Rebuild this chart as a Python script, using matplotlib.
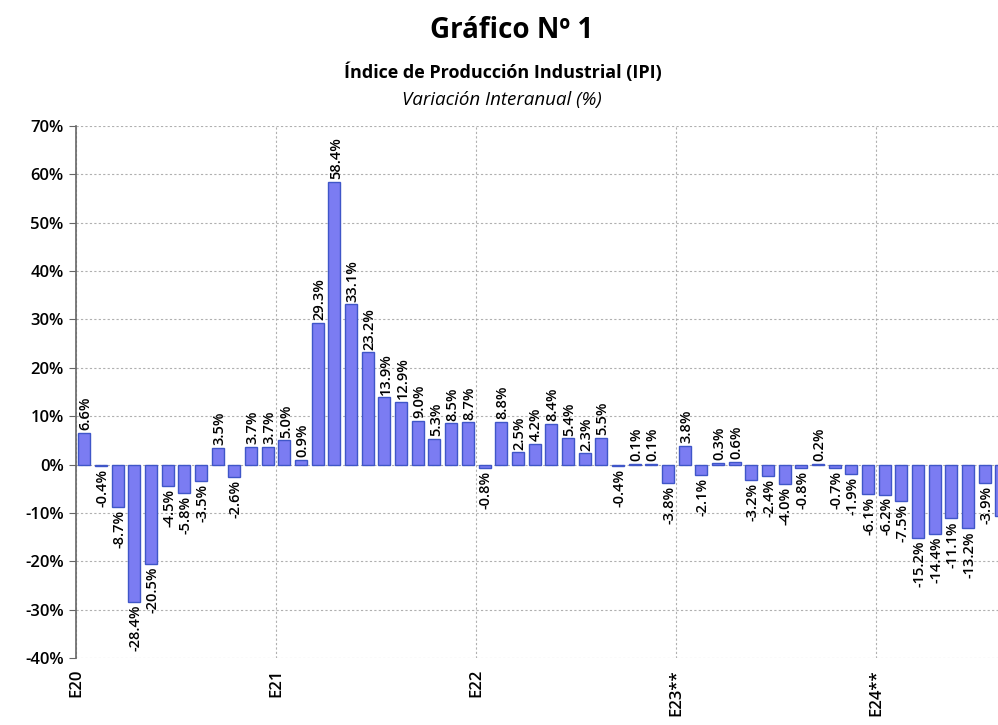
import matplotlib
matplotlib.use("Agg")
import matplotlib.pyplot as plt
import numpy as np

# Monthly year-over-year change of the IPI (%), Jan 2020 - Aug 2024
v2020 = [6.6, -0.4, -8.7, -28.4, -20.5, -4.5, -5.8, -3.5, 3.5, -2.6, 3.7, 3.7]
v2021 = [5.0, 0.9, 29.3, 58.4, 33.1, 23.2, 13.9, 12.9, 9.0, 5.3, 8.5, 8.7]
v2022 = [-0.8, 8.8, 2.5, 4.2, 8.4, 5.4, 2.3, 5.5, -0.4, 0.1, 0.1, -3.8]
v2023 = [3.8, -2.1, 0.3, 0.6, -3.2, -2.4, -4.0, -0.8, 0.2, -0.7, -1.9, -6.1]
v2024 = [-6.2, -7.5, -15.2, -14.4, -11.1, -13.2, -3.9, -10.6]
year_labels = ["E20", "E21", "E22", "E23**", "E24**"]

values = v2020 + v2021 + v2022 + v2023 + v2024
x = np.arange(len(values))

plt.rcParams['font.family'] = ['Open Sans', 'DejaVu Sans']

fig = plt.figure(figsize=(9.98, 7.25), dpi=100)
ax = fig.add_axes([0.0762, 0.0924, 0.9238, 0.7338])

ax.bar(x, values, width=0.72, color='#7b7cf2', edgecolor='#3f56c8', linewidth=1.0, zorder=3)

# data labels
for xi, v in zip(x, values):
    if v >= 0:
        ax.annotate(f"{v:.1f}%", (xi, v), xytext=(1, 2), textcoords='offset points',
                    rotation=90, ha='center', va='bottom', fontsize=10.5,
                    fontweight='semibold', zorder=4)
    else:
        ax.annotate(f"{v:.1f}%", (xi, v), xytext=(1, -2), textcoords='offset points',
                    rotation=90, ha='center', va='top', fontsize=10.5,
                    fontweight='semibold', zorder=4)

ax.set_ylim(-40, 70)
ax.set_xlim(-0.5, 54.8)
ax.set_yticks(np.arange(-40, 71, 10))
ax.set_yticklabels([f"{t}%" for t in range(-40, 71, 10)], fontsize=12, fontweight='semibold')
ax.yaxis.grid(True, linestyle=(0, (2, 2)), color='#b0b0b0', linewidth=0.8, zorder=0)

# year boundaries
bounds = np.arange(len(year_labels)) * 12 - 0.5
for b in bounds:
    ax.axvline(b, linestyle=(0, (2, 2)), color='#b0b0b0', linewidth=0.8, zorder=0)
ax.set_xticks(bounds)
ax.set_xticklabels(year_labels, rotation=90, fontsize=12, fontweight='semibold', va='top')
ax.tick_params(axis='x', length=0, pad=8)
ax.tick_params(axis='y', direction='out', length=5, color='#666666', pad=4)

for s in ['top', 'right', 'bottom']:
    ax.spines[s].set_visible(False)
ax.spines['left'].set_color('#666666')
ax.spines['left'].set_linewidth(1.2)

fig.text(0.513, 0.958, "Gráfico Nº 1", ha='center', va='center', fontsize=20, fontweight='bold')
fig.text(0.504, 0.901, "Índice de Producción Industrial (IPI)", ha='center', va='center',
         fontsize=13, fontweight='bold')
fig.text(0.503, 0.862, "Variación Interanual (%)", ha='center', va='center',
         fontsize=13.5, style='italic')

fig.savefig("out.png", dpi=100)
